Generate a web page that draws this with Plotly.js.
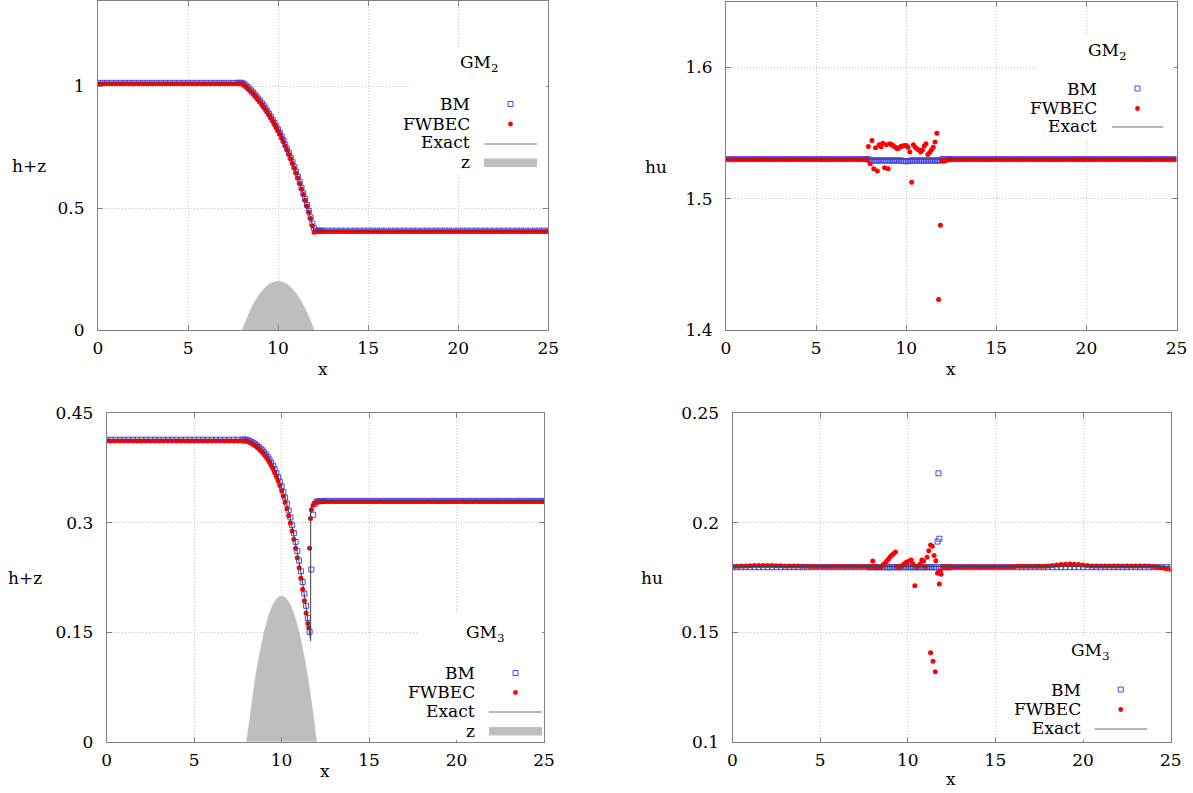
<!DOCTYPE html>
<html>
<head>
<meta charset="utf-8">
<script src="https://cdn.plot.ly/plotly-3.0.1.min.js"></script>
<style>html,body{margin:0;padding:0;background:#fff;}#chart{width:1193px;height:793px;}</style>
</head>
<body>
<div id="chart"></div>
<script>
// ---------------- data ----------------
const xGrid = [
 0,0.25,0.5,0.75,1,1.25,1.5,1.75,2,2.25,2.5,2.75,3,3.25,3.5,3.75,
 4,4.25,4.5,4.75,5,5.25,5.5,5.75,6,6.25,6.5,6.75,7,7.25,7.5,7.75,
 7.8,7.9,8,8.1,8.2,8.3,8.4,8.5,8.6,8.7,8.8,8.9,
 9,9.1,9.2,9.3,9.4,9.5,9.6,9.7,9.8,9.9,
 10,10.1,10.2,10.3,10.4,10.5,10.6,10.7,10.8,10.9,
 11,11.1,11.2,11.3,11.4,11.5,11.6,11.7,11.8,11.9,
 12,12.1,12.2,12.3,12.4,12.5,
 12.75,13,13.25,13.5,13.75,14,14.25,14.5,14.75,15,
 15.25,15.5,15.75,16,16.25,16.5,16.75,17,17.25,17.5,
 17.75,18,18.25,18.5,18.75,19,19.25,19.5,19.75,20,
 20.25,20.5,20.75,21,21.25,21.5,21.75,22,22.25,22.5,
 22.75,23,23.25,23.5,23.75,24,24.25,24.5,24.75,25
];

// bottom topography z
const zX = [8,8.25,8.5,8.75,9,9.25,9.5,9.75,10,10.25,10.5,10.75,11,11.25,11.5,11.75,12];
const zY = [0,0.047,0.088,0.122,0.15,0.172,0.188,0.197,0.2,0.197,0.188,0.172,0.15,0.122,0.088,0.047,0];

// ---- GM2 : h+z ----
const bm1 = [
 1.015,1.015,1.015,1.015,1.015,1.015,1.015,1.015,1.015,1.015,1.015,1.015,1.015,1.015,1.015,1.015,
 1.015,1.015,1.015,1.015,1.015,1.015,1.015,1.015,1.015,1.015,1.015,1.015,1.015,1.015,1.015,1.015,
 1.015,1.015,1.015,1.011,1.005,0.998,0.991,0.984,0.976,0.968,0.959,0.950,
 0.941,0.931,0.921,0.911,0.900,0.888,0.876,0.863,0.850,0.837,
 0.823,0.809,0.794,0.778,0.761,0.744,0.726,0.708,0.689,0.670,
 0.650,0.629,0.607,0.584,0.561,0.538,0.514,0.489,0.463,0.437,
 0.418,0.408,0.408,0.408,0.408,0.408,
 0.408,0.408,0.408,0.408,0.408,0.408,0.408,0.408,0.408,0.408,
 0.408,0.408,0.408,0.408,0.408,0.408,0.408,0.408,0.408,0.408,
 0.408,0.408,0.408,0.408,0.408,0.408,0.408,0.408,0.408,0.408,
 0.408,0.408,0.408,0.408,0.408,0.408,0.408,0.408,0.408,0.408,
 0.408,0.408,0.408,0.408,0.408,0.408,0.408,0.408,0.408,0.408
];
const fw1 = [
 1.011,1.011,1.011,1.011,1.011,1.011,1.011,1.011,1.011,1.011,1.011,1.011,1.011,1.011,1.011,1.011,
 1.011,1.011,1.011,1.011,1.011,1.011,1.011,1.011,1.011,1.011,1.011,1.011,1.011,1.011,1.011,1.011,
 1.011,1.011,1.011,1.006,1.000,0.993,0.986,0.979,0.971,0.963,0.954,0.945,
 0.936,0.926,0.916,0.906,0.895,0.883,0.871,0.858,0.845,0.832,
 0.818,0.804,0.789,0.773,0.756,0.739,0.721,0.703,0.684,0.665,
 0.645,0.624,0.602,0.579,0.556,0.533,0.509,0.484,0.458,0.428,
 0.401,0.405,0.405,0.405,0.405,0.405,
 0.405,0.405,0.405,0.405,0.405,0.405,0.405,0.405,0.405,0.405,
 0.405,0.405,0.405,0.405,0.405,0.405,0.405,0.405,0.405,0.405,
 0.405,0.405,0.405,0.405,0.405,0.405,0.405,0.405,0.405,0.405,
 0.405,0.405,0.405,0.405,0.405,0.405,0.405,0.405,0.405,0.405,
 0.405,0.405,0.405,0.405,0.405,0.405,0.405,0.405,0.405,0.405
];
const ex1X = [0,8,8.25,8.5,8.75,9,9.25,9.5,9.75,10,10.25,10.5,10.75,11,11.25,11.5,11.75,12,25];
const ex1Y = [1.014,1.014,0.999,0.981,0.961,0.938,0.913,0.885,0.854,0.820,0.783,0.741,0.696,0.647,0.593,0.535,0.473,0.406,0.406];

// ---- GM2 : hu ----
const bm2 = [
 1.53,1.53,1.53,1.53,1.53,1.53,1.53,1.53,1.53,1.53,1.53,1.53,1.53,1.53,1.53,1.53,
 1.53,1.53,1.53,1.53,1.53,1.53,1.53,1.53,1.53,1.53,1.53,1.53,1.53,1.53,1.53,1.53,
 1.53,1.53,1.529,1.529,1.529,1.529,1.529,1.529,1.529,1.529,1.529,1.529,
 1.529,1.529,1.529,1.529,1.529,1.529,1.529,1.529,1.5288,1.5285,
 1.5285,1.5285,1.5288,1.529,1.529,1.529,1.529,1.529,1.529,1.529,
 1.529,1.529,1.529,1.529,1.529,1.529,1.529,1.529,1.529,1.529,
 1.53,1.53,1.53,1.53,1.53,1.53,
 1.53,1.53,1.53,1.53,1.53,1.53,1.53,1.53,1.53,1.53,
 1.53,1.53,1.53,1.53,1.53,1.53,1.53,1.53,1.53,1.53,
 1.53,1.53,1.53,1.53,1.53,1.53,1.53,1.53,1.53,1.53,
 1.53,1.53,1.53,1.53,1.53,1.53,1.53,1.53,1.53,1.53,
 1.53,1.53,1.53,1.53,1.53,1.53,1.53,1.53,1.53,1.53
];
const fw2 = [
 1.53,1.53,1.53,1.53,1.53,1.53,1.53,1.53,1.53,1.53,1.53,1.53,1.53,1.53,1.53,1.53,
 1.53,1.53,1.53,1.53,1.53,1.53,1.53,1.53,1.53,1.53,1.53,1.53,1.53,1.53,1.53,1.53,
 1.530,1.5397,1.5266,1.5443,1.5228,1.5387,1.521,1.541,1.5395,1.5422,1.5235,1.541,
 1.5228,1.5418,1.541,1.540,1.539,1.538,1.5385,1.5397,1.540,1.5405,
 1.5405,1.539,1.5354,1.5124,1.541,1.539,1.538,1.537,1.5354,1.537,
 1.540,1.5418,1.5336,1.535,1.537,1.539,1.543,1.5498,1.4233,1.4797,
 1.529,1.5285,1.529,1.5295,1.53,1.53,
 1.53,1.53,1.53,1.53,1.53,1.53,1.53,1.53,1.53,1.53,
 1.53,1.53,1.53,1.53,1.53,1.53,1.53,1.53,1.53,1.53,
 1.53,1.53,1.53,1.53,1.53,1.53,1.53,1.53,1.53,1.53,
 1.53,1.53,1.53,1.53,1.53,1.53,1.53,1.53,1.53,1.53,
 1.53,1.53,1.53,1.53,1.53,1.53,1.53,1.53,1.53,1.53
];
const ex2X = [0,25];
const ex2Y = [1.53,1.53];

// ---- GM3 : h+z ----
const bm3 = [
 0.4138,0.4138,0.4138,0.4138,0.4138,0.4138,0.4138,0.4138,0.4138,0.4138,0.4138,0.4138,0.4138,0.4138,0.4138,0.4138,
 0.4138,0.4138,0.4138,0.4138,0.4138,0.4138,0.4138,0.4138,0.4138,0.4138,0.4138,0.4138,0.4138,0.4138,0.4138,0.4138,
 0.4138,0.4138,0.4138,0.4128,0.4117,0.4104,0.4090,0.4075,0.4057,0.4038,0.4017,0.3993,
 0.3966,0.3936,0.3903,0.3868,0.3827,0.3784,0.3735,0.3683,0.3626,0.3563,
 0.3498,0.3423,0.3346,0.3262,0.3169,0.3074,0.2967,0.2857,0.2738,0.2611,
 0.2480,0.2335,0.2188,0.2030,0.1862,0.1693,0.1505,0.2360,0.3110,0.3260,
 0.3290,0.3295,0.3297,0.3298,0.3299,0.3300,
 0.33,0.33,0.33,0.33,0.33,0.33,0.33,0.33,0.33,0.33,
 0.33,0.33,0.33,0.33,0.33,0.33,0.33,0.33,0.33,0.33,
 0.33,0.33,0.33,0.33,0.33,0.33,0.33,0.33,0.33,0.33,
 0.33,0.33,0.33,0.33,0.33,0.33,0.33,0.33,0.33,0.33,
 0.33,0.33,0.33,0.33,0.33,0.33,0.33,0.33,0.33,0.33
];
const fw3 = [
 0.4122,0.4122,0.4122,0.4122,0.4122,0.4122,0.4122,0.4122,0.4122,0.4122,0.4122,0.4122,0.4122,0.4122,0.4122,0.4122,
 0.4122,0.4122,0.4122,0.4122,0.4122,0.4122,0.4122,0.4122,0.4122,0.4122,0.4122,0.4122,0.4122,0.4122,0.4122,0.4122,
 0.4122,0.4122,0.4120,0.4110,0.4098,0.4085,0.4070,0.4054,0.4035,0.4014,0.3991,0.3965,
 0.3936,0.3904,0.3869,0.3831,0.3788,0.3742,0.3690,0.3635,0.3575,0.3509,
 0.3440,0.3362,0.3280,0.3192,0.3096,0.2996,0.2887,0.2773,0.2650,0.2520,
 0.2385,0.2240,0.2090,0.1930,0.1765,0.1620,0.2650,0.3180,0.3240,0.3270,
 0.3282,0.3287,0.3289,0.3290,0.3290,0.3290,
 0.3292,0.3292,0.3292,0.3292,0.3292,0.3292,0.3292,0.3292,0.3292,0.3292,
 0.3292,0.3292,0.3292,0.3292,0.3292,0.3292,0.3292,0.3292,0.3292,0.3292,
 0.3292,0.3292,0.3292,0.3292,0.3292,0.3292,0.3292,0.3292,0.3292,0.3292,
 0.3292,0.3292,0.3292,0.3292,0.3292,0.3292,0.3292,0.3292,0.3292,0.3292,
 0.3292,0.3292,0.3292,0.3292,0.3292,0.3292,0.3292,0.3292,0.3292,0.3292
];
const fw3ExtraX = [11.55,11.65];
const fw3ExtraY = [0.1560,0.3060];
const ex3X = [0,8,8.25,8.5,8.75,9,9.25,9.5,9.75,10,10.25,10.5,10.75,11,11.25,11.5,11.66,11.66,11.8,12,25];
const ex3Y = [0.4137,0.4137,0.4109,0.4072,0.4024,0.3961,0.3881,0.3777,0.3649,0.3489,0.3297,0.3063,0.2788,0.2467,0.2098,0.1679,0.1383,0.3204,0.3251,0.33,0.33];

// ---- GM3 : hu ----
const bm4 = [
 0.1797,0.1797,0.1797,0.1797,0.1797,0.1797,0.1797,0.1797,0.1797,0.1797,0.1797,0.1797,0.1797,0.1797,0.1797,0.1797,
 0.1797,0.1797,0.1797,0.1797,0.1797,0.1797,0.1797,0.1797,0.1797,0.1797,0.1797,0.1797,0.1797,0.1797,0.1797,0.1797,
 0.1797,0.1797,0.1797,0.1797,0.1797,0.1797,0.1797,0.1797,0.1797,0.1797,0.1797,0.1797,
 0.1797,0.1797,0.1797,0.1797,0.1797,0.1797,0.1797,0.1797,0.1797,0.1797,
 0.1797,0.1797,0.1797,0.1797,0.1797,0.1797,0.1797,0.1797,0.1797,0.1797,
 0.1797,0.1797,0.1797,0.1797,0.1797,0.1797,0.1797,0.1914,0.1927,0.1797,
 0.1797,0.1797,0.1797,0.1797,0.1797,0.1797,
 0.1797,0.1797,0.1797,0.1797,0.1797,0.1797,0.1797,0.1797,0.1797,0.1797,
 0.1797,0.1797,0.1797,0.1797,0.1797,0.1797,0.1797,0.1797,0.1797,0.1797,
 0.1797,0.1797,0.1797,0.1797,0.1797,0.1797,0.1797,0.1797,0.1797,0.1797,
 0.1797,0.1797,0.1797,0.1797,0.1797,0.1797,0.1797,0.1797,0.1797,0.1797,
 0.1797,0.1797,0.1797,0.1797,0.1797,0.1797,0.1797,0.1797,0.1797,0.1797
];
const bm4ExtraX = [11.75];
const bm4ExtraY = [0.2226];
const fw4 = [
 0.1800,0.1801,0.1802,0.1803,0.1804,0.1805,0.1805,0.1805,0.1805,0.1805,0.1804,0.1804,0.1803,0.1803,0.1802,0.1802,
 0.1801,0.1801,0.1800,0.1800,0.1800,0.1800,0.1800,0.1800,0.1800,0.1800,0.1800,0.1800,0.1800,0.1800,0.1800,0.1800,
 0.1800,0.1800,0.1825,0.1800,0.1798,0.1797,0.1798,0.1800,0.1808,0.1815,0.1825,0.1835,
 0.1845,0.1853,0.1860,0.1866,0.1800,0.1798,0.1800,0.1806,0.1812,0.1818,
 0.1822,0.1826,0.1830,0.1812,0.1712,0.1800,0.1802,0.1810,0.1830,0.1825,
 0.1800,0.1842,0.1872,0.1898,0.1893,0.1850,0.1827,0.1769,0.1720,0.1765,
 0.1800,0.1798,0.1797,0.1798,0.1799,0.1800,
 0.1799,0.1799,0.1799,0.1799,0.1799,0.1799,0.1799,0.1799,0.1799,0.1799,
 0.1799,0.1799,0.1799,0.1799,0.1801,0.1801,0.1801,0.1801,0.1801,0.1801,
 0.1801,0.1803,0.1805,0.1807,0.1809,0.1811,0.1812,0.1811,0.1809,0.1807,
 0.1805,0.1803,0.1802,0.1802,0.1802,0.1802,0.1802,0.1802,0.1802,0.1802,
 0.1802,0.1802,0.1802,0.1802,0.1802,0.1800,0.1798,0.1795,0.1790,0.1786
];
const fw4ExtraX = [11.3,11.44,11.57,11.75,11.85];
const fw4ExtraY = [0.1406,0.1367,0.1320,0.1775,0.1780];
const ex4X = [0,25];
const ex4Y = [0.18,0.18];

const xTicks = [0,5,10,15,20,25];

// ---------------- styling ----------------
const W = 1193, H = 793;
const PX = p => p / W, PY = p => 1 - p / H;
const FONT = 'DejaVu Serif';
const BLUE = '#4646f0', RED = '#ff0000', EXACT = '#404040', ZGRAY = '#bebebe';

function bmTrace(x, y, ax){ return {x, y, xaxis:'x'+ax, yaxis:'y'+ax, mode:'markers', type:'scatter',
  marker:{symbol:'square-open', size:5, color:BLUE, line:{width:1, color:BLUE}}, hoverinfo:'skip'}; }
function fwTrace(x, y, ax){ return {x, y, xaxis:'x'+ax, yaxis:'y'+ax, mode:'markers', type:'scatter',
  marker:{symbol:'circle', size:5, color:RED}, hoverinfo:'skip'}; }
function exTrace(x, y, ax){ return {x, y, xaxis:'x'+ax, yaxis:'y'+ax, mode:'lines', type:'scatter',
  line:{color:EXACT, width:1}, hoverinfo:'skip'}; }
function zTrace(x, y, ax){ return {x, y, xaxis:'x'+ax, yaxis:'y'+ax, mode:'lines', type:'scatter',
  fill:'tozeroy', fillcolor:ZGRAY, line:{color:ZGRAY, width:0.5}, hoverinfo:'skip'}; }

const data = [
  zTrace(zX, zY, ''), bmTrace(xGrid, bm1, ''), fwTrace(xGrid, fw1, ''), exTrace(ex1X, ex1Y, ''),
  bmTrace(xGrid, bm2, '2'), fwTrace(xGrid, fw2, '2'), exTrace(ex2X, ex2Y, '2'),
  zTrace(zX, zY, '3'), bmTrace(xGrid, bm3, '3'), fwTrace(xGrid.concat(fw3ExtraX), fw3.concat(fw3ExtraY), '3'), exTrace(ex3X, ex3Y, '3'),
  bmTrace(xGrid.concat(bm4ExtraX), bm4.concat(bm4ExtraY), '4'), fwTrace(xGrid.concat(fw4ExtraX), fw4.concat(fw4ExtraY), '4'), exTrace(ex4X, ex4Y, '4')
];

function axis(domain, range, tickvals, anchor, isX){
  const a = {domain, range, tickvals, anchor, showgrid:true, gridcolor:'#c8c8c8', griddash:'1px,2px', gridwidth:1,
    zeroline:false, showline:true, linecolor:'#808080', linewidth:1, mirror:'ticks', ticks:'inside', ticklen:5,
    tickcolor:'#808080', tickfont:{family:FONT, size:17, color:'#000'}, fixedrange:true, automargin:false};
  a.ticklabelstandoff = isX ? 3 : 9;
  return a;
}

// pixel frames [left, right, top, bottom]
const F1 = [98, 548.3, 1.3, 330], F2 = [726, 1176.5, 1.5, 330], F3 = [106.7, 544, 413.3, 741.7], F4 = [732.5, 1170.7, 413.3, 741.7];
const dx = f => [PX(f[0]), PX(f[1])], dy = f => [PY(f[3]), PY(f[2])];

const layout = {
  width: W, height: H, margin:{l:0, r:0, t:0, b:0}, showlegend:false,
  paper_bgcolor:'#fff', plot_bgcolor:'#fff', font:{family:FONT, size:17, color:'#000'},
  xaxis: axis(dx(F1), [0,25], xTicks, 'y', true),
  yaxis: axis(dy(F1), [0,1.35], [0,0.5,1], 'x', false),
  xaxis2: axis(dx(F2), [0,25], xTicks, 'y2', true),
  yaxis2: axis(dy(F2), [1.4,1.65], [1.4,1.5,1.6], 'x2', false),
  xaxis3: axis(dx(F3), [0,25], xTicks, 'y3', true),
  yaxis3: axis(dy(F3), [0,0.45], [0,0.15,0.3,0.45], 'x3', false),
  xaxis4: axis(dx(F4), [0,25], xTicks, 'y4', true),
  yaxis4: axis(dy(F4), [0.1,0.25], [0.1,0.15,0.2,0.25], 'x4', false),
  shapes: [], annotations: []
};

function txt(text, x, y, anchor){ layout.annotations.push({text, x:PX(x), y:PY(y), xref:'paper', yref:'paper',
  xanchor: anchor || 'center', yanchor:'middle', showarrow:false, font:{family:FONT, size:17, color:'#000'}}); }
function rect(x0, y0, x1, y1, fill, lineColor){ layout.shapes.push({type:'rect', xref:'paper', yref:'paper',
  x0:PX(x0), x1:PX(x1), y0:PY(y1), y1:PY(y0), fillcolor:fill, line:{width: lineColor ? 1 : 0, color: lineColor || fill}, layer:'above'}); }
function hline(x0, x1, y, color){ layout.shapes.push({type:'line', xref:'paper', yref:'paper',
  x0:PX(x0), x1:PX(x1), y0:PY(y), y1:PY(y), line:{width:1, color}, layer:'above'}); }
function dot(cx, cy, r, color){ layout.shapes.push({type:'circle', xref:'paper', yref:'paper',
  x0:PX(cx-r), x1:PX(cx+r), y0:PY(cy+r), y1:PY(cy-r), fillcolor:color, line:{width:0, color}, layer:'above'}); }

// axis titles (horizontal, placed as in the reference)
txt('h+z', 29, 166); txt('x', 323, 369);
txt('hu', 656, 167); txt('x', 951, 369);
txt('h+z', 25, 578); txt('x', 325, 771);
txt('hu', 652, 578); txt('x', 951, 779);

function key(box, tr, s0, s1, tx, ty, title, rows, withZ){
  rect(box[0], box[1], box[2], box[3], '#ffffff');
  txt(title, tx, ty);
  const sc = (s0 + s1) / 2;
  txt('BM', tr, rows[0], 'right');  rect(sc-2.5, rows[0]-2.5, sc+2.5, rows[0]+2.5, 'rgba(0,0,0,0)', BLUE);
  txt('FWBEC', tr, rows[1], 'right'); dot(sc, rows[1]+0.5, 2.4, RED);
  txt('Exact', tr, rows[2], 'right'); hline(s0, s1, rows[2]+1.5, '#707070');
  if (withZ){ txt('z', tr, rows[3], 'right'); rect(s0, rows[3]-3.5, s1, rows[3]+5, ZGRAY); }
}
key([412, 47, 546, 173], 472, 484, 537, 480, 63, 'GM<sub>2</sub>', [104, 123.5, 142.5, 162], true);
key([1038, 33, 1174, 138], 1099, 1112, 1163, 1107, 52, 'GM<sub>2</sub>', [88.5, 108, 125.5], false);
key([417, 614, 542, 740], 477, 489, 542, 485, 633, 'GM<sub>3</sub>', [673, 692, 710.5, 730.5], true);
key([1000, 636, 1169, 740], 1082.5, 1094.5, 1147, 1090.5, 651, 'GM<sub>3</sub>', [689.5, 709, 727.5], false);

Plotly.newPlot('chart', data, layout, {staticPlot:true, displayModeBar:false});
</script>
</body>
</html>
